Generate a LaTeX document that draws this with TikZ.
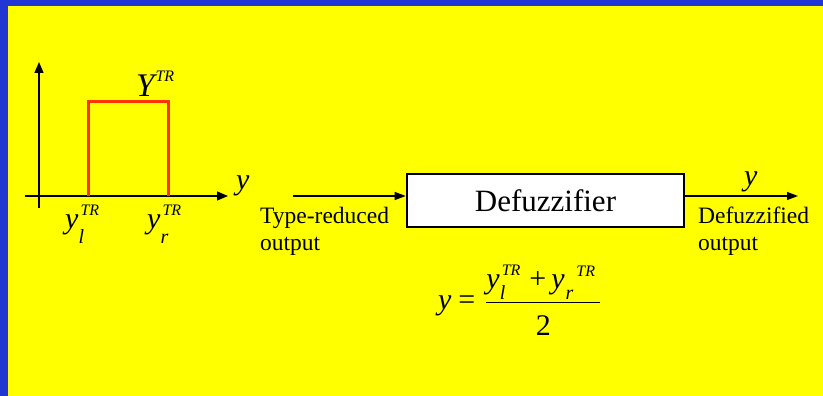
\documentclass[tikz,border=0pt]{standalone}
\usepackage{amsmath}
\usepackage{fontspec}
\setmainfont{Liberation Serif}
\usepackage{tikz}
\usetikzlibrary{arrows.meta,positioning}

\definecolor{slideblue}{RGB}{34,54,214}
\definecolor{slideyellow}{RGB}{255,255,0}
\definecolor{setred}{RGB}{255,51,0}
\newcommand{\vy}{\mathit{y}}
% y with subscript #2 (lowered by #1) and superscript TR
\newcommand{\ytr}[2][15pt]{\mbox{\itshape y\rlap{\raisebox{-#1}{\fontsize{20}{20}\selectfont #2}}\kern2pt\raisebox{13pt}{\fontsize{16}{16}\selectfont TR}}}
% same, superscript set after the subscript
\newcommand{\ytrafter}[2][11pt]{\mbox{\itshape y\kern1pt\raisebox{-#1}{\fontsize{20}{20}\selectfont #2}\kern3pt\raisebox{12pt}{\fontsize{16}{16}\selectfont TR}}}
\newcommand{\Ytr}{\mbox{\fontsize{33}{36}\selectfont\itshape Y\kern1pt\raisebox{15pt}{\fontsize{16}{16}\selectfont TR}}}

\begin{document}
\begin{tikzpicture}[x=1pt, y=-1pt,
  font=\fontsize{30}{36}\selectfont,
  axis/.style={-{Triangle[length=11pt,width=9pt]}, line width=1.4pt},
  sig/.style={-{Triangle[length=11pt,width=8pt]}, line width=1.2pt},
  setline/.style={draw=setred, line width=3pt},
  blk/.style={draw=black, fill=white, line width=2.6pt, minimum width=277pt,
              minimum height=53pt, inner sep=0pt},
  lab/.style={font=\fontsize{23.5}{27}\selectfont, align=left, inner sep=0pt,
              anchor=north west},
  mlab/.style={inner sep=0pt, anchor=base west}
]
% Slide background
\fill[slideblue] (0,0) rectangle (823,396);
\fill[slideyellow] (8,6) rectangle (823,396);
\useasboundingbox (0,0) rectangle (823,396);

% Axes of the type-reduced set
\coordinate (xs) at (25,196);
\coordinate (xe) at (228,196);
\coordinate (ys) at (39,208);
\coordinate (ye) at (39,62);
\draw[axis] (xs) -- (xe);
\draw[axis] (ys) -- (ye);
\node[mlab] (yax) at (236,189) {$\vy$};

% Interval set Y^TR
\coordinate (yl) at (88,196);
\coordinate (yr) at (168,196);
\draw[setline] (yl) |- (168,102) -- (yr);
\node[mlab] (Ytr) at (136,97) {\Ytr};
\node[mlab] (ylab) at (65,228) {\ytr{l}};
\node[mlab] (yrlab) at (147,228) {\ytr{r}};

% Defuzzifier block
\node[blk] (dfz) at (545.5,200.5) {\fontsize{31}{36}\selectfont Defuzzifier};
\coordinate (tin) at (293,196);
\coordinate (tout) at (798,196);
\draw[sig] (tin) -- (tin -| dfz.west);
\draw[sig] (tin -| dfz.east) -- (tout);
\node[mlab] (yout) at (744,185) {$\vy$};

\node[lab] (inlab) at (260,207) {Type-reduced\\output};
\node[lab] (outlab) at (698,207) {Defuzzified\\output};

% Centroid of the interval
\node[mlab] (eq) at (438,309)
  {$\vy \mathrel{\mbox{=}}\kern3pt \dfrac{\ytr[11pt]{l}\kern9pt\mbox{+}\kern5pt\ytrafter{r}\kern5pt}{\rule{0pt}{29pt}\mathrm{2}}$};
\end{tikzpicture}
\end{document}
